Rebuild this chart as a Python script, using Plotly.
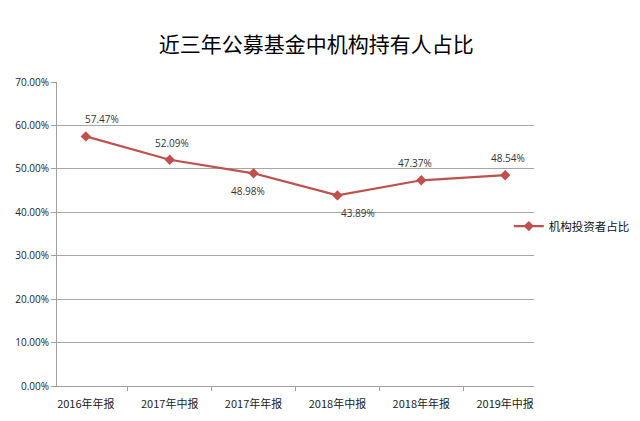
import plotly.graph_objects as go

categories = ["2016年年报", "2017年中报", "2017年年报", "2018年中报", "2018年年报", "2019年中报"]
values = [0.5747, 0.5209, 0.4898, 0.4389, 0.4737, 0.4854]
label_above = [True, True, False, False, True, True]
label_xshift = [16, 2, -6, 21, -6, 3]
series_name = "机构投资者占比"
title = "近三年公募基金中机构持有人占比"

fig = go.Figure()
fig.add_trace(go.Scatter(
    x=categories, y=values, name=series_name,
    mode="lines+markers",
    line=dict(color="#C0504D", width=2.2),
    marker=dict(symbol="diamond", size=8, color="#C0504D"),
    cliponaxis=False,
))
for c, v, up, dx in zip(categories, values, label_above, label_xshift):
    fig.add_annotation(x=c, y=v, text=f"{v*100:.2f}%", showarrow=False,
                       xshift=dx, yshift=17 if up else -18,
                       font=dict(family="Open Sans, DejaVu Sans", size=10, color="#333"))

fig.update_layout(
    width=640, height=421,
    margin=dict(l=57, r=106, t=82, b=35, autoexpand=False),
    paper_bgcolor="white", plot_bgcolor="white",
    title=dict(text=title, x=0.494, xref="container", xanchor="center", y=0.895, yanchor="middle",
               font=dict(family="Noto Sans CJK SC", size=21, color="#000")),
    showlegend=True,
    legend=dict(x=0.795, xref="container", xanchor="left", y=0.463, yref="container", yanchor="middle",
                font=dict(family="Noto Sans CJK SC", size=11.5, color="#111"),
                bgcolor="rgba(0,0,0,0)"),
    font=dict(family="Noto Sans CJK SC"),
)
fig.update_xaxes(
    type="category", showgrid=False, showline=True, linecolor="#A0A0A0", linewidth=1,
    ticks="outside", tickson="boundaries", ticklen=4, tickcolor="#A0A0A0",
    ticklabelstandoff=8,
    tickfont=dict(family="Noto Sans CJK SC", size=11, color="#222"),
)
fig.update_yaxes(
    range=[0, 0.7], dtick=0.1, tickformat=".2%",
    showgrid=True, gridcolor="#A6A6A6", gridwidth=1,
    showline=True, linecolor="#A0A0A0", linewidth=1,
    ticks="outside", ticklen=5, tickcolor="#A0A0A0",
    tickfont=dict(family="Open Sans, DejaVu Sans", size=10, color="#222"),
    zeroline=False,
)

fig.write_html("out.html")
